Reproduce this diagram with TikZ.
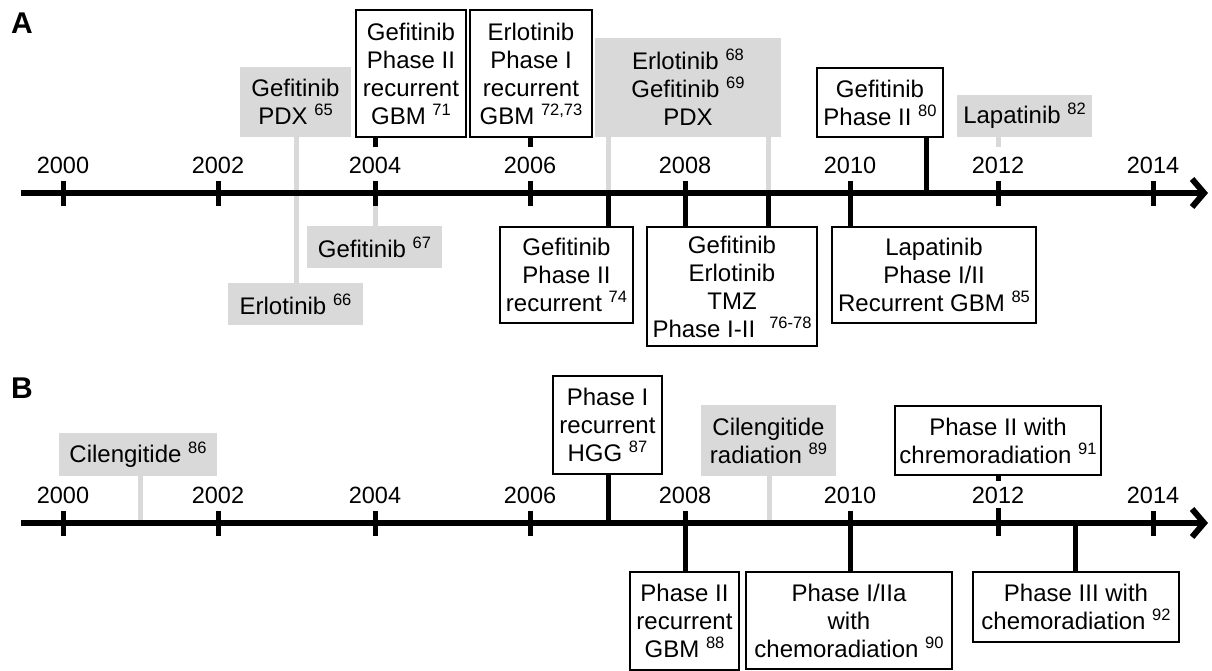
\documentclass[tikz,border=0pt]{standalone}
\usepackage{fontspec}
\setmainfont{Liberation Sans}
\usepackage{tikz}
\usetikzlibrary{arrows.meta}
\definecolor{pregrey}{HTML}{D9D9D9}
\newcommand{\refnum}[1]{\raisebox{9pt}{\fontsize{16.5}{16.5}\selectfont #1}}
\tikzstyle{trial} = [draw=black, line width=2.5pt, fill=white, align=center, inner sep=0pt, font=\fontsize{24}{28}\selectfont]
\tikzstyle{pre} = [fill=pregrey, align=center, inner sep=0pt, font=\fontsize{24}{28}\selectfont]
\tikzstyle{yr} = [inner sep=0pt, font=\fontsize{23.5}{23.5}\selectfont]
\tikzstyle{panel} = [inner sep=0pt, font=\fontsize{30}{30}\selectfont\bfseries]
\tikzstyle{stem} = [line width=5pt]
\tikzstyle{prestem} = [pregrey, line width=5pt]
\tikzstyle{tick} = [line width=5pt]
\tikzstyle{axis} = [line width=6pt, -{Straight Barb[length=12pt,width=28pt]}]

\begin{document}
\begin{tikzpicture}[x=1pt,y=-1pt]
      \useasboundingbox (0,0) rectangle (1212,671);
      %%%%%%%%%%%%%%%%%%%%%%%%%%%%%%%%%%%%%%%
      % panel A
      \node[panel] (pA) at (22,23) {A};
      \coordinate (Astart) at (21,193);
      \coordinate (Aend) at (1208,193);
      \coordinate (A2003) at (296,193);
      \coordinate (A2004) at (375,193);
      \coordinate (A2006) at (530,193);
      \coordinate (A2007) at (608,193);
      \coordinate (A2008) at (685,193);
      \coordinate (A2009) at (768,193);
      \coordinate (A2010) at (850,193);
      \coordinate (A2011) at (926,193);
      \coordinate (sA2004) at (375,147);
      \coordinate (sA2006) at (530,147);
      \coordinate (sA2012) at (998,147);
      \node[pre, minimum width=111, minimum height=70] (a1) at (295.5,102) {Gefitinib\\PDX \refnum{65}};
      \node[pre, minimum width=135, minimum height=42] (a2) at (295.5,304) {Erlotinib \refnum{66}};
      \node[pre, minimum width=135, minimum height=42] (a3) at (374.5,247) {Gefitinib \refnum{67}};
      \node[trial, minimum width=110, minimum height=127] (a4) at (411,73.5) {Gefitinib\\Phase II\\recurrent\\GBM \refnum{71}};
      \node[trial, minimum width=122, minimum height=127] (a5) at (531,73.5) {Erlotinib\\Phase I\\recurrent\\GBM \refnum{72,73}};
      \node[pre, minimum width=186, minimum height=99] (a6) at (688,87.5) {Erlotinib \refnum{68}\\Gefitinib \refnum{69}\\PDX};
      \node[trial, minimum width=126, minimum height=69] (a7) at (880,102.5) {Gefitinib\\Phase II \refnum{80}};
      \node[pre, minimum width=135, minimum height=42] (a8) at (1024.5,116) {Lapatinib \refnum{82}};
      \node[trial, minimum width=133, minimum height=96] (a9) at (566.5,275) {Gefitinib\\Phase II\\recurrent \refnum{74}};
      \node[trial, minimum width=170, minimum height=119] (a10) at (732,286.5) {Gefitinib\\Erlotinib\\TMZ\\Phase I-II\hspace{14pt}\refnum{76-78}};
      \node[trial, minimum width=204, minimum height=96] (a11) at (934,275) {Lapatinib\\Phase I/II\\Recurrent GBM \refnum{85}};
      \draw[prestem] (a1.south -| A2003) -- (a2.north -| A2003);
      \draw[prestem] (A2004) -- (a3.north -| A2004);
      \draw[prestem] (a6.south -| A2007) -- (A2007);
      \draw[prestem] (a6.south -| A2009) -- (A2009);
      \draw[prestem] (a8.south -| sA2012) -- (sA2012);
      \draw[axis] (Astart) -- (Aend);
      \draw[tick] (63,181) -- (63,206);
      \draw[tick] (218,181) -- (218,206);
      \draw[tick] (375,181) -- (375,206);
      \draw[tick] (530,181) -- (530,206);
      \draw[tick] (685,181) -- (685,206);
      \draw[tick] (850,181) -- (850,206);
      \draw[tick] (998,181) -- (998,206);
      \draw[tick] (1153,181) -- (1153,206);
      \node[yr] (ly2000) at (63,165) {2000};
      \node[yr] (ly2002) at (218,165) {2002};
      \node[yr] (ly2004) at (375,165) {2004};
      \node[yr] (ly2006) at (530,165) {2006};
      \node[yr] (ly2008) at (685,165) {2008};
      \node[yr] (ly2010) at (850,165) {2010};
      \node[yr] (ly2012) at (998,165) {2012};
      \node[yr] (ly2014) at (1153,165) {2014};
      \draw[stem] (a4.south -| sA2004) -- (sA2004);
      \draw[stem] (a5.south -| sA2006) -- (sA2006);
      \draw[stem] (a7.south -| A2011) -- (A2011);
      \draw[stem] (A2007) -- (a9.north -| A2007);
      \draw[stem] (A2008) -- (a10.north -| A2008);
      \draw[stem] (A2009) -- (a10.north -| A2009);
      \draw[stem] (A2010) -- (a11.north -| A2010);
      %%%%%%%%%%%%%%%%%%%%%%%%%%%%%%%%%%%%%%%
      % panel B
      \node[panel] (pB) at (22,388) {B};
      \coordinate (Bstart) at (21,523);
      \coordinate (Bend) at (1208,523);
      \coordinate (B2001) at (140,523);
      \coordinate (B2007) at (608,523);
      \coordinate (B2008) at (685,523);
      \coordinate (B2009) at (769,523);
      \coordinate (B2010) at (850,523);
      \coordinate (B2013) at (1075,523);
      \coordinate (sB2012) at (998,481);
      \node[pre, minimum width=158, minimum height=43] (b1) at (138,454.5) {Cilengitide \refnum{86}};
      \node[trial, minimum width=109, minimum height=98] (b2) at (607.5,425) {Phase I\\recurrent\\HGG \refnum{87}};
      \node[pre, minimum width=135, minimum height=71] (b3) at (768.5,440.5) {Cilengitide\\radiation \refnum{89}};
      \node[trial, minimum width=206, minimum height=69] (b4) at (998,440.5) {Phase II with\\chremoradiation \refnum{91}};
      \node[trial, minimum width=109, minimum height=98] (b5) at (684.5,621) {Phase II\\recurrent\\GBM \refnum{88}};
      \node[trial, minimum width=206, minimum height=97] (b6) at (849,620.5) {Phase I/IIa\\with\\chemoradiation \refnum{90}};
      \node[trial, minimum width=206, minimum height=70] (b7) at (1076,607) {Phase III with\\chemoradiation \refnum{92}};
      \draw[prestem] (b1.south -| B2001) -- (B2001);
      \draw[prestem] (b3.south -| B2009) -- (B2009);
      \draw[axis] (Bstart) -- (Bend);
      \draw[tick] (63,511) -- (63,536);
      \draw[tick] (218,511) -- (218,536);
      \draw[tick] (375,511) -- (375,536);
      \draw[tick] (530,511) -- (530,536);
      \draw[tick] (685,511) -- (685,536);
      \draw[tick] (850,511) -- (850,536);
      \draw[tick] (998,508) -- (998,536);
      \draw[tick] (1153,511) -- (1153,536);
      \node[yr] (my2000) at (63,495) {2000};
      \node[yr] (my2002) at (218,495) {2002};
      \node[yr] (my2004) at (375,495) {2004};
      \node[yr] (my2006) at (530,495) {2006};
      \node[yr] (my2008) at (685,495) {2008};
      \node[yr] (my2010) at (850,495) {2010};
      \node[yr] (my2012) at (998,495) {2012};
      \node[yr] (my2014) at (1153,495) {2014};
      \draw[stem] (b2.south -| B2007) -- (B2007);
      \draw[stem] (b4.south -| sB2012) -- (sB2012);
      \draw[stem] (B2008) -- (b5.north -| B2008);
      \draw[stem] (B2010) -- (b6.north -| B2010);
      \draw[stem] (B2013) -- (b7.north -| B2013);
\end{tikzpicture}
\end{document}
